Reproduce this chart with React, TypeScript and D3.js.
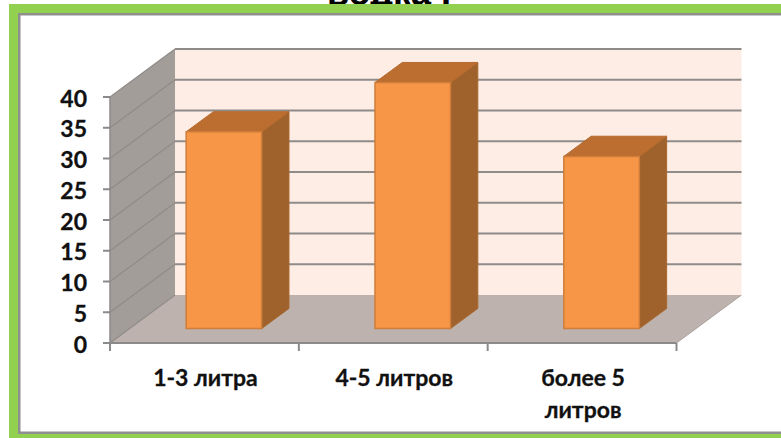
import React from "react";
import * as d3 from "d3";

// Survey answers by volume
const categories = ["1-3 литра", "4-5 литров", "более 5 литров"];
const values = [32, 40, 28];
const yTicks = [0, 5, 10, 15, 20, 25, 30, 35, 40];
const categoryLines = [["1-3 литра"], ["4-5 литров"], ["более 5", "литров"]];
const titleText = "водка I";

const W = 781;
const H = 438;
const FONT = "Lato, 'Noto Sans', sans-serif";

// Oblique projection: depth 0 is the front edge of the floor, depth 1 the back wall
const DEPTH_X = 65;
const DEPTH_Y = -48;
const BAR_START = 0.3;
const BAR_DEPTH = 0.42;

const x = d3.scaleBand<string>().domain(categories).range([110, 676.5]);
const y = d3.scaleLinear().domain([0, 40]).range([343, 97]);
const BAR_WIDTH = x.bandwidth() * 0.4;

const project = (px: number, py: number, d: number): [number, number] => [
  px + DEPTH_X * d,
  py + DEPTH_Y * d,
];
const poly = (pts: [number, number][]) => pts.map((p) => p.join(",")).join(" ");

const GRID = "#8f8b89";

export default function App() {
  const x0 = x.range()[0];
  const x1 = x.range()[1];
  const y0 = y(0);
  const yTop = y(40);
  const bands = [...x.domain().map((c) => x(c) as number), x1];

  return (
    <svg
      width={W}
      height={H}
      viewBox={`0 0 ${W} ${H}`}
      style={{ position: "absolute", left: 0, top: 0, background: "#fff" }}
    >
      {/* Heading, mostly hidden behind the frame */}
      <text x={389} y={5} textAnchor="middle" fontFamily="'Liberation Sans', sans-serif" fontWeight={700} fontSize={36} fill="#000">
        {titleText}
      </text>

      {/* Frame */}
      <rect x={9} y={4} width={W - 9} height={H - 4} fill="#92d050" />
      <rect x={18} y={13} width={W - 18} height={421} fill="#8f8f8f" />
      <rect x={20.5} y={15.5} width={W - 20.5} height={416} fill="#fff" />

      {/* Back wall */}
      <polygon
        points={poly([
          project(x0, yTop, 1),
          project(x1, yTop, 1),
          project(x1, y0, 1),
          project(x0, y0, 1),
        ])}
        fill="#fdede5"
      />
      {/* Side wall */}
      <polygon
        points={poly([
          project(x0, yTop, 0),
          project(x0, yTop, 1),
          project(x0, y0, 1),
          project(x0, y0, 0),
        ])}
        fill="#a39d9a"
      />
      {/* Floor */}
      <polygon
        points={poly([
          project(x0, y0, 0),
          project(x0, y0, 1),
          project(x1, y0, 1),
          project(x1, y0, 0),
        ])}
        fill="#bdb2ad"
      />

      {/* Gridlines run along the side wall, then across the back wall */}
      {yTicks.map((t) => {
        const a = project(x0, y(t), 0);
        const b = project(x0, y(t), 1);
        const c = project(x1, y(t), 1);
        return (
          <g key={t}>
            <line x1={a[0]} y1={a[1]} x2={b[0]} y2={b[1]} stroke={GRID} strokeWidth={1.2} />
            {t > 0 && <line x1={b[0]} y1={b[1]} x2={c[0]} y2={c[1]} stroke={GRID} strokeWidth={2} />}
          </g>
        );
      })}

      {/* Floor right edge */}
      <line {...{ x1: x1, y1: y0, x2: x1 + DEPTH_X, y2: y0 + DEPTH_Y }} stroke="#a9a19c" strokeWidth={1} />

      {/* Bars */}
      {categories.map((c, i) => {
        const left = (x(c) as number) + (x.bandwidth() - BAR_WIDTH) / 2;
        const right = left + BAR_WIDTH;
        const top = y(values[i]);
        const f = (px: number, py: number) => project(px, py, BAR_START);
        const b = (px: number, py: number) => project(px, py, BAR_START + BAR_DEPTH);
        return (
          <g key={c}>
            <polygon
              points={poly([f(right, top), b(right, top), b(right, y0), f(right, y0)])}
              fill="#9f622c"
              stroke="#a8682f"
              strokeWidth={1}
            />
            <polygon
              points={poly([f(left, top), b(left, top), b(right, top), f(right, top)])}
              fill="#bb6e2f"
              stroke="#b56a2e"
              strokeWidth={1}
            />
            <polygon
              points={poly([f(left, top), f(right, top), f(right, y0), f(left, y0)])}
              fill="#f79646"
              stroke="#cf7d3a"
              strokeWidth={1.5}
            />
          </g>
        );
      })}

      {/* Value axis */}
      <line x1={x0} y1={yTop} x2={x0} y2={y0} stroke="#8a8a8a" strokeWidth={1.5} />
      {yTicks.map((t) => (
        <g key={t}>
          <line x1={x0 - 7} y1={y(t)} x2={x0} y2={y(t)} stroke="#8a8a8a" strokeWidth={2} />
          <text x={87} y={y(t) + 9.5} textAnchor="end" fontFamily={FONT} fontWeight={700} fontSize={23} fill="#111" stroke="#111" strokeWidth={0.3}>
            {t}
          </text>
        </g>
      ))}

      {/* Category axis */}
      <line x1={x0} y1={y0} x2={x1} y2={y0} stroke="#8a8a8a" strokeWidth={2} />
      {bands.map((b) => (
        <line key={b} x1={b} y1={y0} x2={b} y2={y0 + 8} stroke="#8a8a8a" strokeWidth={2} />
      ))}
      {categories.map((c, i) => (
        <text
          key={c}
          textAnchor="middle"
          fontFamily={FONT}
          fontWeight={700}
          fontSize={23}
          fill="#111"
          stroke="#111"
          strokeWidth={0.3}
        >
          {categoryLines[i].map((line, k) => (
            <tspan key={line} x={(x(c) as number) + x.bandwidth() / 2 + 1} y={385.5 + k * 32.5}>
              {line}
            </tspan>
          ))}
        </text>
      ))}
    </svg>
  );
}
